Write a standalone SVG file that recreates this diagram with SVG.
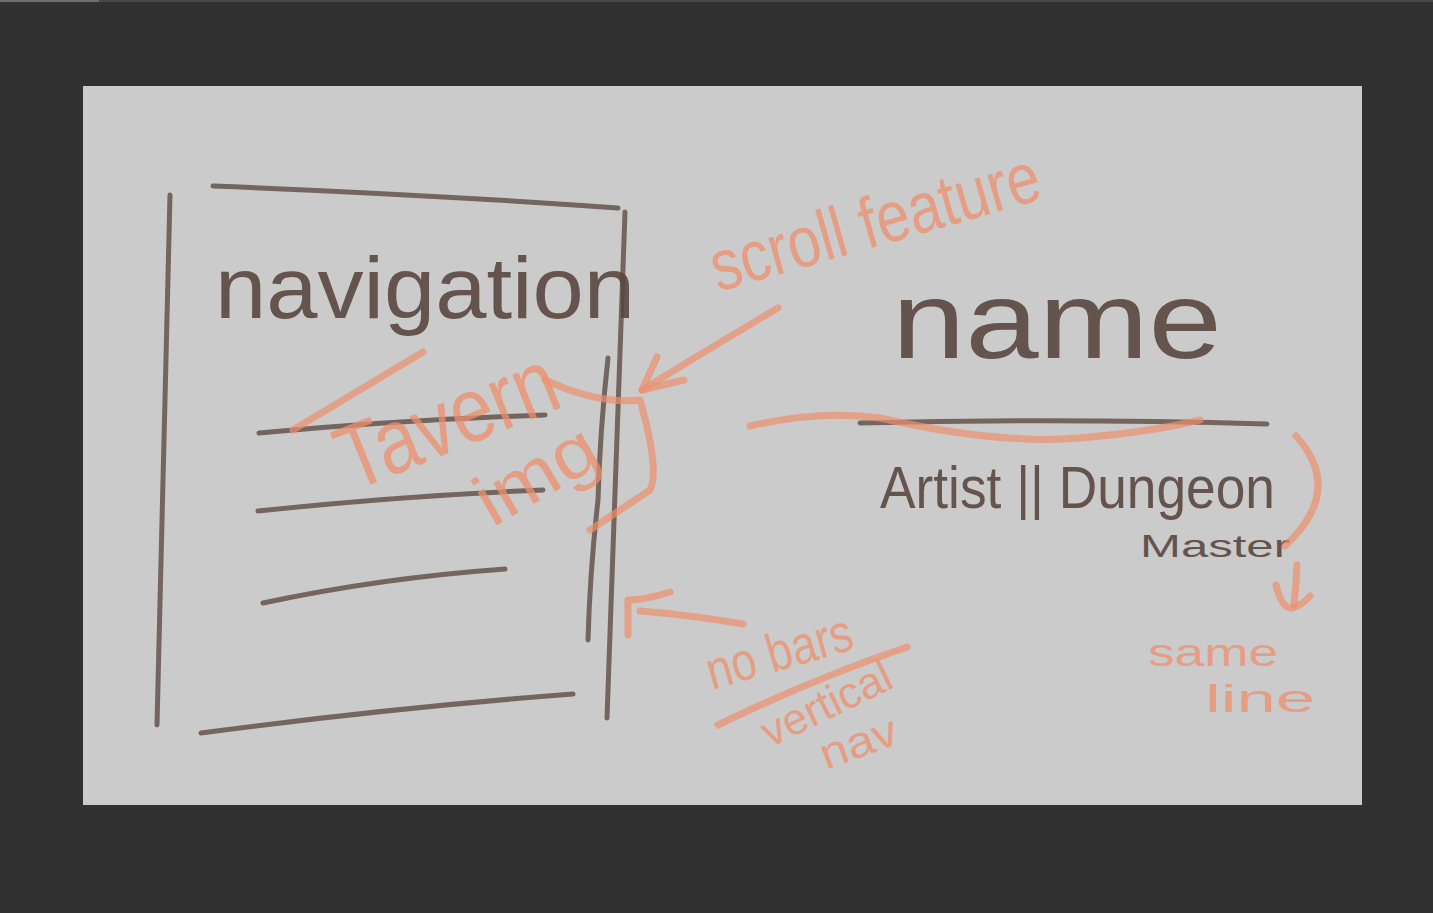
<svg xmlns="http://www.w3.org/2000/svg" width="1433" height="913" viewBox="0 0 1433 913">
<style>
.br{fill:none;stroke:#6a5a52;stroke-width:5;stroke-linecap:round;stroke-linejoin:round;opacity:.9}
.or{fill:none;stroke:#ee8f6c;stroke-width:7;stroke-linecap:round;stroke-linejoin:round;opacity:.7}
.bt{font-family:"Liberation Sans",Arial,sans-serif;fill:#5a4840;opacity:.9}
.ot{font-family:"Liberation Sans",Arial,sans-serif;fill:#ee8f6c;opacity:.75}
</style>
<rect x="0" y="0" width="1433" height="913" fill="#313131"/>
<rect x="0" y="0" width="99" height="2" fill="#6e6e6e"/>
<rect x="99" y="0" width="1334" height="2" fill="#484848"/>
<rect x="83" y="86" width="1279" height="719" fill="#cbcbcb"/>

<g id="nav-panel">
  <path class="br" d="M170 195 Q163 460 157 725"/>
  <path class="br" d="M213 186 Q420 194 618 208"/>
  <path class="br" d="M625 212 Q616 460 607 718"/>
  <path class="br" d="M201 733 Q390 708 573 694"/>
  <path class="br" d="M608 358 Q600 430 598 500 Q590 570 588 640"/>
  <path class="br" d="M259 433 Q400 420 545 415"/>
  <path class="br" d="M258 511 Q400 496 543 490"/>
  <path class="br" d="M263 603 Q380 578 505 569"/>
  <text class="bt" x="215" y="318" font-size="88" textLength="420" lengthAdjust="spacingAndGlyphs">navigation</text>
</g>

<g id="tavern-img">
  <path class="or" d="M293 430 Q360 390 423 352"/>
  <text class="ot" transform="translate(352,492) rotate(-22)" font-size="92" textLength="230" lengthAdjust="spacingAndGlyphs">Tavern</text>
  <text class="ot" transform="translate(492,528) rotate(-30)" font-size="72" textLength="130" lengthAdjust="spacingAndGlyphs">img</text>
  <path class="or" d="M545 380 Q600 405 640 400 Q660 470 650 490 Q620 510 590 530"/>
</g>

<g id="scroll-feature">
  <text class="ot" transform="translate(718,292) rotate(-16)" font-size="72" textLength="340" lengthAdjust="spacingAndGlyphs">scroll feature</text>
</g>

<g id="name-block">
  <text class="bt" x="892" y="358" font-size="110" textLength="330" lengthAdjust="spacingAndGlyphs">name</text>
  <path class="br" d="M860 423 Q1060 418 1267 424"/>
  <path class="or" d="M750 426 Q820 410 880 418 Q1000 445 1080 438 Q1150 432 1200 420"/>
  <text class="bt" x="880" y="508" font-size="60" textLength="395" lengthAdjust="spacingAndGlyphs">Artist || Dungeon</text>
  <text class="bt" x="1140" y="557" font-size="32" textLength="150" lengthAdjust="spacingAndGlyphs">Master</text>
  <path class="or" d="M1296 436 Q1345 490 1285 546"/>
</g>

<g id="same-line">
  <text class="ot" x="1148" y="666" font-size="38" textLength="130" lengthAdjust="spacingAndGlyphs">same</text>
  <text class="ot" x="1205" y="712" font-size="38" textLength="110" lengthAdjust="spacingAndGlyphs">line</text>
</g>

<g id="no-bars">
  <text class="ot" transform="translate(712,690) rotate(-16)" font-size="54" textLength="150" lengthAdjust="spacingAndGlyphs">no bars</text>
  <path class="or" d="M718 725 Q810 680 907 647"/>
  <text class="ot" transform="translate(770,748) rotate(-26)" font-size="44" textLength="140" lengthAdjust="spacingAndGlyphs">vertical</text>
  <text class="ot" transform="translate(826,770) rotate(-20)" font-size="44" textLength="80" lengthAdjust="spacingAndGlyphs">nav</text>
</g>

<g id="connectors">
  <path class="or" d="M778 308 Q710 348 642 390"/>
  <path class="or" d="M657 357 L642 390 L684 380"/>
  <path class="or" d="M743 624 Q690 615 640 611"/>
  <path class="or" d="M670 592 Q645 600 628 600 L628 635"/>
  <path class="or" d="M1297 565 Q1296 585 1294 605"/>
  <path class="or" d="M1276 585 Q1282 610 1293 608 Q1302 605 1310 596"/>
</g>
</svg>
